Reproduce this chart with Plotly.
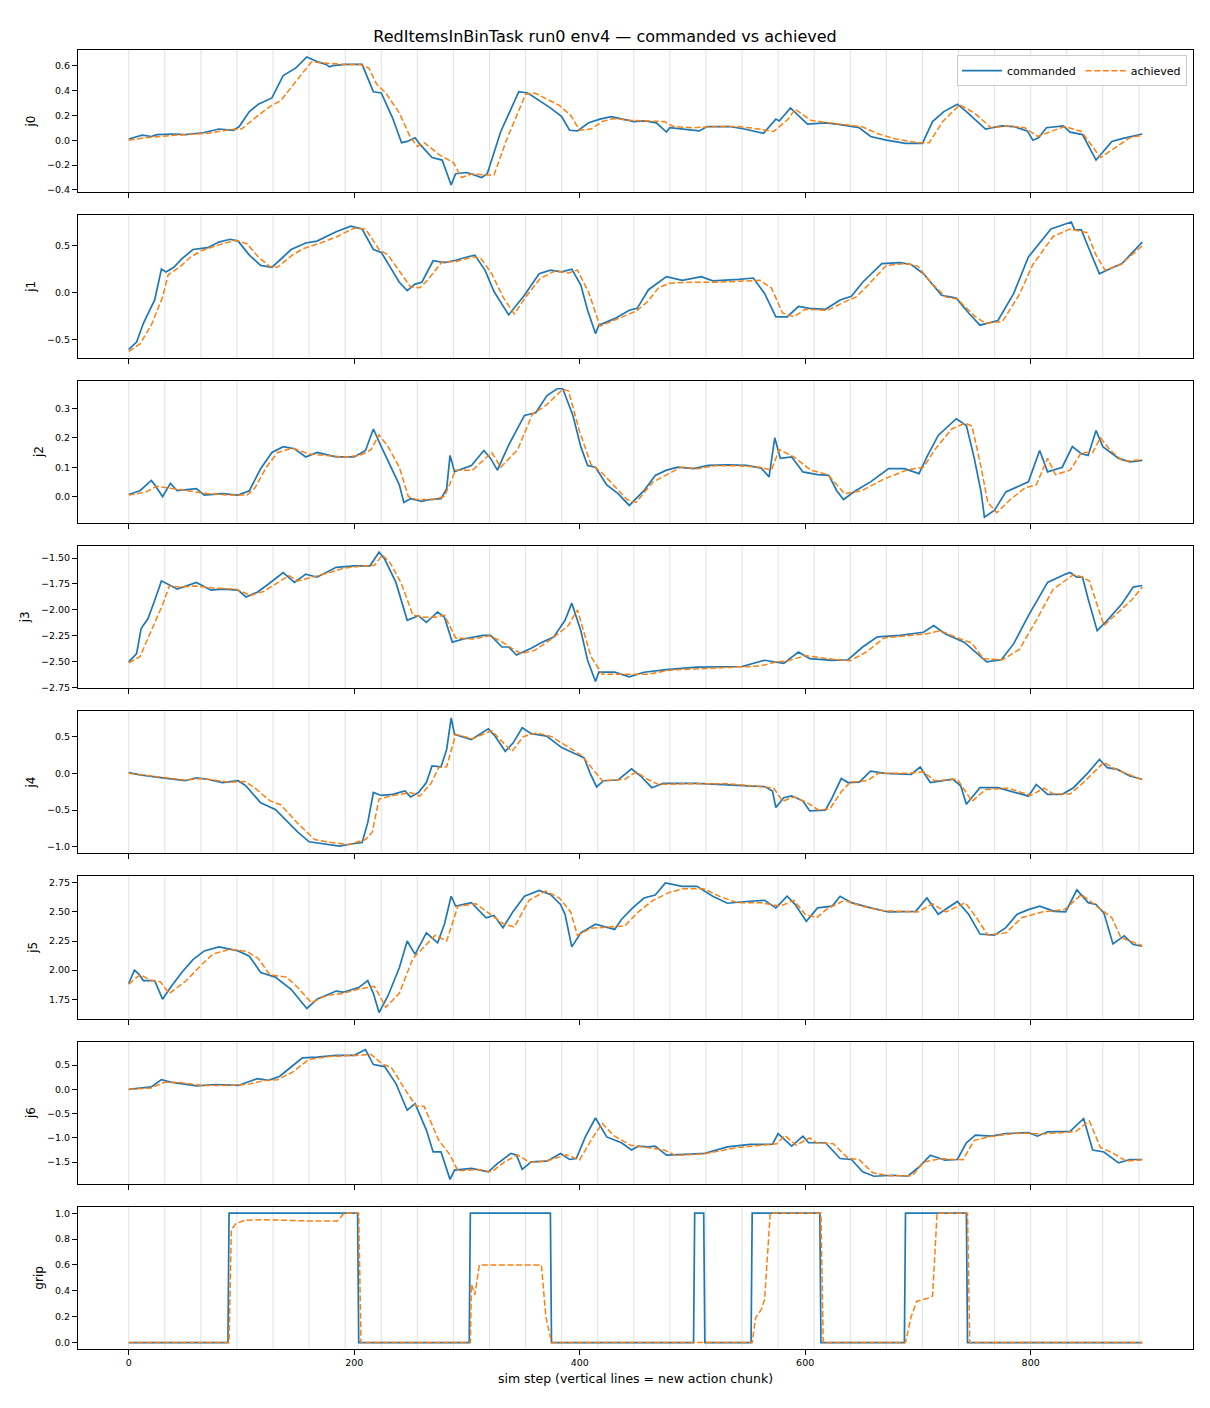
import plotly.graph_objects as go
from plotly.subplots import make_subplots

# ---------- data (step, value) ----------
J0_CMD = [(0, 0.01), (12, 0.04), (20, 0.03), (25, 0.045), (39, 0.05), (50, 0.045), (66, 0.06), (80, 0.09),
          (93, 0.08), (98, 0.11), (107, 0.23), (115, 0.29), (127, 0.34), (137, 0.52), (148, 0.58), (158, 0.67),
          (168, 0.63), (175, 0.61), (178, 0.59), (181, 0.60), (192, 0.61), (207, 0.61), (212, 0.50), (217, 0.39),
          (224, 0.38), (234, 0.18), (242, -0.02), (247, -0.01), (254, 0.02), (258, -0.03), (269, -0.14),
          (278, -0.16), (286, -0.36), (290, -0.27), (300, -0.26), (313, -0.30), (318, -0.27), (330, 0.07),
          (346, 0.39), (354, 0.38), (374, 0.26), (384, 0.19), (391, 0.08), (398, 0.075), (408, 0.14), (418, 0.17),
          (428, 0.19), (448, 0.15), (458, 0.155), (468, 0.14), (477, 0.065), (480, 0.10), (506, 0.075),
          (513, 0.11), (533, 0.11), (546, 0.09), (563, 0.055), (574, 0.17), (577, 0.155), (587, 0.26),
          (602, 0.13), (618, 0.14), (628, 0.13), (648, 0.10), (658, 0.03), (672, 0.0), (689, -0.025),
          (704, -0.025), (713, 0.15), (723, 0.23), (735, 0.29), (743, 0.23), (760, 0.09), (774, 0.115),
          (785, 0.11), (797, 0.075), (802, 0.0), (807, 0.02), (814, 0.10), (829, 0.115), (835, 0.065),
          (846, 0.045), (858, -0.16), (872, -0.01), (882, 0.015), (896, 0.045), (899, 0.05)]
J0_ACH = [(0, 0.0), (15, 0.02), (40, 0.04), (70, 0.055), (90, 0.085), (100, 0.09), (112, 0.18), (125, 0.27),
          (135, 0.32), (148, 0.47), (162, 0.63), (175, 0.62), (190, 0.61), (205, 0.61), (213, 0.58), (220, 0.45),
          (228, 0.38), (240, 0.22), (250, 0.02), (256, -0.05), (262, -0.02), (276, -0.12), (288, -0.18),
          (295, -0.30), (305, -0.27), (315, -0.28), (324, -0.28), (335, 0.0), (352, 0.37), (360, 0.38),
          (382, 0.28), (392, 0.20), (400, 0.08), (410, 0.09), (420, 0.15), (430, 0.175), (445, 0.16),
          (460, 0.155), (475, 0.15), (483, 0.11), (500, 0.10), (520, 0.11), (540, 0.11), (555, 0.095),
          (572, 0.07), (585, 0.17), (591, 0.25), (605, 0.16), (625, 0.135), (650, 0.11), (665, 0.05),
          (680, 0.01), (700, -0.02), (710, -0.02), (722, 0.15), (737, 0.285), (750, 0.22), (765, 0.10),
          (780, 0.115), (795, 0.10), (806, 0.03), (815, 0.06), (830, 0.11), (845, 0.07), (862, -0.14),
          (875, -0.06), (888, 0.02), (899, 0.04)]

J1_CMD = [(0, -0.61), (7, -0.53), (13, -0.33), (23, -0.08), (29, 0.25), (33, 0.22), (40, 0.27), (47, 0.36),
          (57, 0.46), (70, 0.48), (80, 0.54), (90, 0.57), (97, 0.55), (107, 0.40), (117, 0.29), (127, 0.27),
          (137, 0.38), (144, 0.46), (157, 0.53), (167, 0.55), (184, 0.65), (197, 0.71), (207, 0.68), (217, 0.46),
          (224, 0.43), (230, 0.31), (240, 0.11), (247, 0.02), (254, 0.09), (260, 0.11), (270, 0.34), (280, 0.32),
          (290, 0.345), (300, 0.38), (307, 0.40), (316, 0.24), (324, 0.01), (337, -0.24), (345, -0.12),
          (351, -0.03), (364, 0.20), (374, 0.24), (384, 0.22), (393, 0.25), (401, 0.08), (407, -0.19),
          (414, -0.44), (417, -0.35), (431, -0.28), (444, -0.19), (451, -0.17), (461, 0.03), (477, 0.17),
          (491, 0.13), (508, 0.17), (518, 0.125), (541, 0.14), (554, 0.155), (564, -0.01), (574, -0.26),
          (584, -0.26), (594, -0.15), (604, -0.17), (618, -0.18), (631, -0.08), (641, -0.04), (651, 0.11),
          (668, 0.31), (684, 0.32), (694, 0.30), (705, 0.20), (721, -0.03), (734, -0.06), (745, -0.22),
          (755, -0.35), (771, -0.30), (785, -0.01), (798, 0.38), (818, 0.68), (831, 0.74), (836, 0.755),
          (839, 0.67), (845, 0.67), (851, 0.49), (861, 0.20), (868, 0.24), (881, 0.31), (899, 0.54)]
J1_ACH = [(0, -0.63), (10, -0.55), (20, -0.35), (30, -0.05), (35, 0.19), (45, 0.27), (55, 0.38), (65, 0.45),
          (80, 0.51), (95, 0.56), (105, 0.52), (115, 0.38), (125, 0.28), (132, 0.27), (145, 0.40), (155, 0.47),
          (170, 0.53), (185, 0.60), (200, 0.69), (210, 0.68), (222, 0.46), (230, 0.40), (240, 0.23), (250, 0.06),
          (258, 0.05), (265, 0.13), (278, 0.33), (290, 0.33), (305, 0.38), (312, 0.37), (322, 0.20), (332, -0.05),
          (342, -0.23), (352, -0.05), (365, 0.15), (378, 0.23), (390, 0.21), (398, 0.24), (408, 0.0),
          (418, -0.36), (430, -0.30), (450, -0.20), (460, -0.10), (470, 0.05), (480, 0.10), (500, 0.11),
          (520, 0.11), (540, 0.12), (560, 0.13), (570, 0.05), (580, -0.22), (590, -0.26), (600, -0.18),
          (620, -0.19), (635, -0.10), (645, -0.05), (655, 0.07), (672, 0.29), (690, 0.31), (700, 0.28),
          (712, 0.10), (725, -0.05), (735, -0.07), (750, -0.25), (760, -0.33), (775, -0.31), (790, -0.02),
          (802, 0.30), (820, 0.60), (835, 0.68), (842, 0.66), (850, 0.64), (858, 0.40), (866, 0.24),
          (880, 0.30), (899, 0.50)]

J2_CMD = [(0, 0.007), (10, 0.02), (20, 0.055), (23, 0.04), (30, 0.0), (37, 0.045), (43, 0.02), (60, 0.027),
          (67, 0.005), (83, 0.01), (97, 0.005), (107, 0.02), (117, 0.095), (127, 0.15), (137, 0.17), (147, 0.163),
          (157, 0.135), (167, 0.15), (184, 0.135), (200, 0.135), (210, 0.157), (217, 0.23), (224, 0.17),
          (230, 0.12), (240, 0.04), (244, -0.02), (250, -0.007), (260, -0.016), (267, -0.01), (277, -0.007),
          (282, 0.027), (285, 0.14), (289, 0.085), (304, 0.106), (315, 0.157), (321, 0.13), (327, 0.09),
          (337, 0.175), (351, 0.276), (361, 0.285), (371, 0.344), (380, 0.367), (385, 0.367), (394, 0.276),
          (401, 0.17), (407, 0.106), (414, 0.10), (424, 0.04), (434, 0.01), (444, -0.03), (457, 0.02),
          (467, 0.072), (477, 0.09), (487, 0.10), (501, 0.095), (514, 0.106), (531, 0.108), (548, 0.106),
          (561, 0.097), (568, 0.067), (573, 0.20), (578, 0.13), (588, 0.135), (598, 0.084), (611, 0.075),
          (621, 0.072), (628, 0.02), (634, -0.01), (644, 0.018), (658, 0.05), (674, 0.095), (688, 0.095),
          (701, 0.078), (708, 0.135), (718, 0.208), (734, 0.265), (743, 0.242), (750, 0.13), (756, 0.016),
          (759, -0.07), (768, -0.046), (778, 0.016), (788, 0.033), (798, 0.05), (808, 0.157), (815, 0.084),
          (828, 0.10), (837, 0.17), (845, 0.146), (851, 0.14), (858, 0.225), (864, 0.17), (878, 0.13),
          (888, 0.118), (899, 0.123)]
J2_ACH = [(0, 0.005), (15, 0.015), (25, 0.035), (35, 0.03), (50, 0.02), (70, 0.01), (90, 0.005), (105, 0.005),
          (112, 0.03), (122, 0.10), (132, 0.15), (145, 0.165), (160, 0.145), (175, 0.14), (190, 0.135),
          (205, 0.14), (215, 0.16), (222, 0.21), (230, 0.17), (240, 0.10), (248, 0.0), (255, -0.01),
          (270, -0.01), (280, 0.0), (290, 0.09), (305, 0.09), (322, 0.15), (330, 0.10), (345, 0.16), (358, 0.28),
          (370, 0.31), (385, 0.365), (390, 0.36), (400, 0.22), (410, 0.11), (420, 0.08), (430, 0.04),
          (442, -0.01), (450, -0.02), (465, 0.05), (480, 0.08), (490, 0.10), (505, 0.095), (520, 0.105),
          (540, 0.105), (560, 0.10), (570, 0.09), (577, 0.16), (590, 0.135), (605, 0.09), (620, 0.075),
          (635, 0.01), (650, 0.02), (670, 0.06), (690, 0.09), (705, 0.10), (715, 0.16), (730, 0.23),
          (742, 0.25), (748, 0.24), (756, 0.10), (762, -0.02), (770, -0.055), (782, -0.01), (795, 0.03),
          (805, 0.04), (815, 0.13), (822, 0.075), (835, 0.09), (845, 0.15), (855, 0.15), (862, 0.20),
          (870, 0.16), (882, 0.12), (899, 0.125)]

J3_CMD = [(0, -2.50), (7, -2.42), (11, -2.18), (17, -2.085), (23, -1.91), (29, -1.72), (37, -1.765),
          (43, -1.80), (60, -1.735), (73, -1.81), (83, -1.80), (97, -1.81), (104, -1.875), (114, -1.83),
          (124, -1.75), (137, -1.64), (147, -1.735), (157, -1.655), (167, -1.685), (184, -1.59), (200, -1.575),
          (214, -1.575), (222, -1.445), (227, -1.51), (237, -1.735), (247, -2.10), (257, -2.055), (264, -2.12),
          (274, -2.02), (280, -2.07), (287, -2.31), (297, -2.28), (314, -2.245), (321, -2.245), (331, -2.357),
          (337, -2.357), (344, -2.435), (357, -2.37), (367, -2.31), (377, -2.26), (387, -2.10), (393, -1.935),
          (401, -2.20), (407, -2.485), (414, -2.69), (417, -2.60), (431, -2.60), (444, -2.645), (457, -2.60),
          (477, -2.575), (504, -2.55), (531, -2.545), (544, -2.545), (564, -2.485), (581, -2.515),
          (594, -2.405), (604, -2.47), (624, -2.485), (638, -2.48), (651, -2.357), (664, -2.26), (684, -2.245),
          (705, -2.215), (714, -2.15), (724, -2.23), (741, -2.31), (751, -2.405), (761, -2.50), (774, -2.48),
          (785, -2.325), (798, -2.055), (815, -1.735), (831, -1.655), (835, -1.64), (841, -1.685),
          (846, -1.685), (851, -1.895), (859, -2.20), (868, -2.10), (881, -1.94), (891, -1.78), (899, -1.765)]
J3_ACH = [(0, -2.51), (10, -2.45), (20, -2.20), (30, -1.95), (36, -1.77), (45, -1.78), (60, -1.77),
          (75, -1.79), (95, -1.80), (108, -1.86), (120, -1.82), (135, -1.72), (142, -1.67), (150, -1.72),
          (162, -1.69), (175, -1.65), (190, -1.60), (205, -1.58), (218, -1.57), (225, -1.47), (232, -1.55),
          (242, -1.75), (252, -2.05), (262, -2.07), (272, -2.07), (280, -2.05), (290, -2.27), (305, -2.28),
          (320, -2.25), (330, -2.30), (340, -2.37), (348, -2.42), (360, -2.39), (375, -2.28), (390, -2.15),
          (398, -2.00), (410, -2.45), (420, -2.62), (440, -2.62), (460, -2.62), (480, -2.58), (520, -2.56),
          (560, -2.54), (575, -2.50), (585, -2.49), (600, -2.44), (620, -2.47), (640, -2.49), (655, -2.40),
          (670, -2.27), (690, -2.25), (708, -2.23), (720, -2.20), (735, -2.27), (748, -2.32), (758, -2.47),
          (775, -2.48), (790, -2.38), (805, -2.10), (820, -1.80), (838, -1.66), (845, -1.68), (852, -1.72),
          (865, -2.15), (875, -2.05), (890, -1.90), (899, -1.78)]

J4_CMD = [(0, 0.01), (10, -0.02), (30, -0.06), (50, -0.10), (60, -0.06), (70, -0.08), (83, -0.125),
          (97, -0.10), (104, -0.17), (117, -0.40), (130, -0.49), (140, -0.645), (150, -0.80), (160, -0.93),
          (170, -0.95), (187, -0.99), (197, -0.96), (207, -0.94), (212, -0.67), (217, -0.26), (224, -0.30),
          (234, -0.285), (245, -0.24), (250, -0.32), (257, -0.26), (264, -0.125), (269, 0.10), (277, 0.09),
          (282, 0.325), (286, 0.755), (289, 0.53), (304, 0.46), (319, 0.605), (325, 0.505), (334, 0.30),
          (341, 0.415), (349, 0.62), (357, 0.54), (371, 0.505), (384, 0.35), (397, 0.26), (404, 0.21),
          (409, 0.01), (415, -0.185), (421, -0.10), (434, -0.09), (446, 0.063), (454, -0.036), (464, -0.195),
          (474, -0.135), (504, -0.135), (524, -0.15), (544, -0.17), (564, -0.18), (571, -0.24), (574, -0.465),
          (581, -0.33), (588, -0.305), (598, -0.375), (604, -0.51), (618, -0.50), (624, -0.33), (632, -0.07),
          (638, -0.125), (648, -0.12), (658, 0.03), (671, 0.0), (694, -0.015), (702, 0.085), (711, -0.125),
          (731, -0.08), (738, -0.17), (743, -0.42), (755, -0.195), (771, -0.195), (788, -0.27), (798, -0.31),
          (805, -0.15), (815, -0.285), (828, -0.285), (838, -0.195), (851, 0.01), (861, 0.19), (868, 0.077),
          (877, 0.054), (888, -0.036), (899, -0.08)]
J4_ACH = [(0, 0.0), (20, -0.04), (50, -0.09), (65, -0.07), (90, -0.12), (103, -0.11), (112, -0.20),
          (125, -0.37), (135, -0.43), (150, -0.68), (165, -0.90), (180, -0.94), (195, -0.97), (210, -0.90),
          (216, -0.80), (222, -0.35), (235, -0.30), (250, -0.26), (258, -0.31), (268, -0.14), (275, 0.08),
          (282, 0.09), (290, 0.53), (305, 0.47), (322, 0.58), (330, 0.45), (340, 0.30), (350, 0.50), (362, 0.55),
          (375, 0.50), (388, 0.38), (402, 0.24), (412, 0.05), (420, -0.10), (440, -0.08), (450, 0.02),
          (460, -0.08), (470, -0.15), (500, -0.14), (530, -0.14), (560, -0.18), (572, -0.20), (580, -0.38),
          (590, -0.32), (602, -0.40), (612, -0.50), (622, -0.48), (632, -0.25), (640, -0.12), (655, -0.10),
          (665, 0.0), (690, 0.0), (705, 0.02), (715, -0.10), (735, -0.08), (748, -0.38), (760, -0.22),
          (780, -0.20), (800, -0.30), (812, -0.20), (820, -0.28), (835, -0.28), (845, -0.15), (858, 0.05),
          (865, 0.15), (875, 0.06), (899, -0.09)]

J5_CMD = [(0, 1.885), (5, 2.00), (9, 1.965), (13, 1.91), (23, 1.91), (30, 1.75), (37, 1.85), (47, 1.98),
          (57, 2.09), (67, 2.165), (80, 2.20), (97, 2.165), (107, 2.12), (117, 1.98), (130, 1.94), (144, 1.835),
          (158, 1.67), (167, 1.75), (184, 1.82), (190, 1.81), (204, 1.85), (212, 1.91), (217, 1.80),
          (222, 1.635), (230, 1.78), (240, 2.02), (247, 2.25), (254, 2.135), (264, 2.32), (274, 2.235),
          (280, 2.395), (286, 2.635), (290, 2.55), (304, 2.58), (317, 2.45), (324, 2.47), (332, 2.365),
          (341, 2.505), (351, 2.635), (364, 2.685), (374, 2.65), (383, 2.565), (387, 2.48), (393, 2.20),
          (401, 2.32), (414, 2.395), (431, 2.35), (437, 2.435), (447, 2.535), (457, 2.62), (467, 2.645),
          (476, 2.75), (491, 2.72), (504, 2.72), (518, 2.635), (531, 2.575), (548, 2.59), (564, 2.60),
          (574, 2.535), (584, 2.635), (591, 2.565), (601, 2.42), (611, 2.535), (624, 2.55), (631, 2.635),
          (641, 2.58), (658, 2.535), (674, 2.50), (698, 2.505), (708, 2.62), (718, 2.48), (735, 2.59),
          (745, 2.48), (755, 2.31), (768, 2.30), (778, 2.365), (788, 2.48), (798, 2.52), (808, 2.55),
          (821, 2.505), (831, 2.50), (841, 2.69), (851, 2.58), (858, 2.565), (865, 2.49), (873, 2.225),
          (883, 2.295), (891, 2.22), (899, 2.205)]
J5_ACH = [(0, 1.88), (10, 1.96), (20, 1.91), (28, 1.90), (36, 1.80), (50, 1.90), (65, 2.05), (75, 2.14),
          (90, 2.18), (105, 2.16), (115, 2.10), (125, 1.96), (140, 1.94), (150, 1.85), (162, 1.72), (175, 1.78),
          (190, 1.80), (205, 1.84), (218, 1.86), (228, 1.68), (240, 1.80), (252, 2.10), (262, 2.20),
          (272, 2.30), (282, 2.25), (292, 2.55), (308, 2.57), (322, 2.47), (332, 2.40), (342, 2.37), (355, 2.60),
          (370, 2.68), (382, 2.62), (392, 2.50), (398, 2.30), (410, 2.36), (425, 2.37), (440, 2.38),
          (452, 2.50), (465, 2.60), (480, 2.67), (492, 2.70), (510, 2.70), (525, 2.63), (540, 2.58),
          (560, 2.58), (578, 2.55), (590, 2.60), (600, 2.48), (610, 2.45), (620, 2.53), (635, 2.60),
          (650, 2.55), (670, 2.51), (700, 2.50), (713, 2.57), (725, 2.50), (742, 2.58), (752, 2.45),
          (762, 2.30), (778, 2.32), (792, 2.45), (810, 2.50), (830, 2.52), (845, 2.65), (858, 2.55),
          (872, 2.45), (880, 2.28), (892, 2.24), (899, 2.21)]

J6_CMD = [(0, 0.0), (20, 0.05), (29, 0.20), (37, 0.15), (60, 0.07), (77, 0.10), (97, 0.08), (114, 0.22),
          (124, 0.185), (134, 0.27), (144, 0.46), (154, 0.65), (167, 0.665), (184, 0.70), (200, 0.70),
          (210, 0.82), (217, 0.51), (227, 0.47), (237, 0.12), (247, -0.43), (254, -0.295), (264, -0.84),
          (270, -1.29), (277, -1.29), (285, -1.855), (289, -1.665), (304, -1.63), (319, -1.70), (327, -1.53),
          (339, -1.32), (344, -1.355), (349, -1.65), (357, -1.495), (371, -1.48), (383, -1.32), (391, -1.445),
          (397, -1.425), (405, -0.98), (414, -0.59), (424, -0.98), (437, -1.10), (446, -1.25), (452, -1.17),
          (461, -1.185), (467, -1.17), (477, -1.355), (498, -1.335), (511, -1.32), (531, -1.185), (551, -1.135),
          (571, -1.13), (576, -0.91), (588, -1.17), (598, -0.965), (603, -1.10), (618, -1.10), (631, -1.425),
          (641, -1.445), (651, -1.70), (661, -1.79), (678, -1.77), (691, -1.79), (701, -1.60), (711, -1.355),
          (724, -1.46), (735, -1.445), (743, -1.10), (751, -0.945), (765, -0.965), (778, -0.91), (798, -0.89),
          (806, -0.965), (815, -0.875), (835, -0.865), (847, -0.60), (855, -1.25), (865, -1.29), (878, -1.515),
          (888, -1.445), (899, -1.445)]
J6_ACH = [(0, 0.0), (20, 0.03), (32, 0.15), (45, 0.14), (65, 0.08), (90, 0.08), (105, 0.10), (120, 0.18),
          (132, 0.20), (145, 0.35), (160, 0.62), (180, 0.68), (200, 0.70), (215, 0.72), (225, 0.52), (233, 0.45),
          (245, 0.0), (255, -0.35), (262, -0.35), (275, -1.05), (285, -1.35), (292, -1.68), (310, -1.65),
          (322, -1.70), (333, -1.50), (345, -1.35), (355, -1.50), (370, -1.48), (388, -1.35), (400, -1.45),
          (410, -1.05), (420, -0.70), (430, -0.95), (445, -1.15), (460, -1.20), (475, -1.25), (485, -1.36),
          (510, -1.33), (540, -1.20), (575, -1.12), (582, -0.95), (592, -1.15), (604, -1.00), (610, -1.10),
          (625, -1.12), (638, -1.42), (648, -1.45), (660, -1.72), (675, -1.78), (695, -1.78), (705, -1.50),
          (720, -1.43), (740, -1.45), (750, -1.05), (765, -0.97), (790, -0.90), (812, -0.92), (840, -0.87),
          (852, -0.65), (862, -1.20), (872, -1.30), (885, -1.48), (899, -1.45)]

GRIP_CMD = [(0, 0), (88, 0), (89, 1), (203, 1), (204, 0), (302, 0), (303, 1), (374, 1), (375, 0), (501, 0),
            (502, 1), (510, 1), (511, 0), (552, 0), (553, 1), (613, 1), (614, 0), (688, 0), (689, 1), (743, 1),
            (744, 0), (899, 0)]
GRIP_ACH = [(0, 0), (89, 0), (91, 0.87), (95, 0.92), (103, 0.945), (118, 0.95), (140, 0.945), (160, 0.94),
            (185, 0.94), (188, 0.97), (191, 1.0), (204, 1.0), (206, 0.0), (303, 0.0), (304, 0.45),
            (307, 0.37), (311, 0.6), (366, 0.6), (370, 0.2), (375, 0.0), (553, 0.0), (556, 0.19), (561, 0.255),
            (564, 0.33), (566, 0.59), (569, 1.0), (614, 1.0), (616, 0.0), (689, 0.0), (691, 0.09), (694, 0.2),
            (699, 0.32), (708, 0.34), (713, 0.36), (717, 1.0), (744, 1.0), (746, 0.0), (899, 0.0)]

PANELS = [
    ("j0", J0_CMD, J0_ACH, [-0.419, 0.726], [-0.4, -0.2, 0.0, 0.2, 0.4, 0.6], ".1f"),
    ("j1", J1_CMD, J1_ACH, [-0.696, 0.827], [-0.5, 0.0, 0.5], ".1f"),
    ("j2", J2_CMD, J2_ACH, [-0.089, 0.395], [0.0, 0.1, 0.2, 0.3], ".1f"),
    ("j3", J3_CMD, J3_ACH, [-2.752, -1.382], [-2.75, -2.5, -2.25, -2.0, -1.75, -1.5], ".2f"),
    ("j4", J4_CMD, J4_ACH, [-1.086, 0.848], [-1.0, -0.5, 0.0, 0.5], ".1f"),
    ("j5", J5_CMD, J5_ACH, [1.584, 2.807], [1.75, 2.0, 2.25, 2.5, 2.75], ".2f"),
    ("j6", J6_CMD, J6_ACH, [-1.945, 0.986], [-1.5, -1.0, -0.5, 0.0, 0.5], ".1f"),
    ("grip", GRIP_CMD, GRIP_ACH, [-0.05, 1.05], [0.0, 0.2, 0.4, 0.6, 0.8, 1.0], ".1f"),
]

CHUNK_SIZE = 32
N_STEPS = 900
CHUNK_STARTS = list(range(0, N_STEPS, CHUNK_SIZE))
X_TICKS = [0, 200, 400, 600, 800]

TITLE = "RedItemsInBinTask run0 env4 \u2014 commanded vs achieved"
X_LABEL = "sim step (vertical lines = new action chunk)"

BLUE = "#1f77b4"
ORANGE = "#ff7f0e"
FONT = "DejaVu Sans"

# page has an 8px body margin, so the figure is a bit smaller than the window
FIG_W = 1194
FIG_H = 1392


def unzip(pairs):
    return [p[0] for p in pairs], [p[1] for p in pairs]


fig = make_subplots(rows=len(PANELS), cols=1, shared_xaxes=True, vertical_spacing=23 / 1299)

for i, (name, cmd, ach, yrange, yticks, fmt) in enumerate(PANELS):
    row = i + 1
    cx, cy = unzip(cmd)
    ax, ay = unzip(ach)
    fig.add_trace(go.Scatter(x=cx, y=cy, mode="lines", name="commanded",
                             line=dict(color=BLUE, width=1.7),
                             showlegend=(row == 1), legendgroup="cmd"), row=row, col=1)
    fig.add_trace(go.Scatter(x=ax, y=ay, mode="lines", name="achieved",
                             line=dict(color=ORANGE, width=1.5, dash="6px,2.6px"),
                             showlegend=(row == 1), legendgroup="ach"), row=row, col=1)
    fig.update_yaxes(range=yrange, tickvals=yticks,
                     ticktext=[format(v, fmt).replace("-", "\u2212") for v in yticks],
                     title=dict(text=name, standoff=8, font=dict(size=12)),
                     row=row, col=1)

# chunk boundary lines
for s in CHUNK_STARTS:
    fig.add_vline(x=s, row="all", col=1, line=dict(color="rgba(128,128,128,0.3)", width=0.8), layer="below")

fig.update_xaxes(range=[-45, 944], tickvals=X_TICKS, showgrid=False, zeroline=False,
                 showline=True, linecolor="black", linewidth=1, mirror=True,
                 ticks="outside", ticklen=5, tickcolor="black", tickfont=dict(size=9.5))
fig.update_yaxes(showgrid=False, zeroline=False, showline=True, linecolor="black", linewidth=1,
                 mirror=True, ticks="outside", ticklen=5, tickcolor="black", tickfont=dict(size=9.5))
fig.update_xaxes(title=dict(text=X_LABEL, standoff=6, font=dict(size=12.5)), row=len(PANELS), col=1)

fig.update_layout(
    width=FIG_W, height=FIG_H,
    margin=dict(l=70, r=9, t=42, b=51),
    paper_bgcolor="white", plot_bgcolor="white",
    font=dict(family=FONT, color="black", size=11),
    title=dict(text=TITLE, x=0.5, xref="container", xanchor="center",
               y=1 - 28 / FIG_H, yref="container", yanchor="middle", font=dict(size=16)),
    legend=dict(orientation="h", x=0.9946, xanchor="right", y=0.996, yanchor="top",
                bgcolor="rgba(255,255,255,0.8)", bordercolor="#cccccc", borderwidth=1,
                font=dict(size=11), itemwidth=40, tracegroupgap=0),
    hovermode=False,
)

fig.write_html("out.html")
